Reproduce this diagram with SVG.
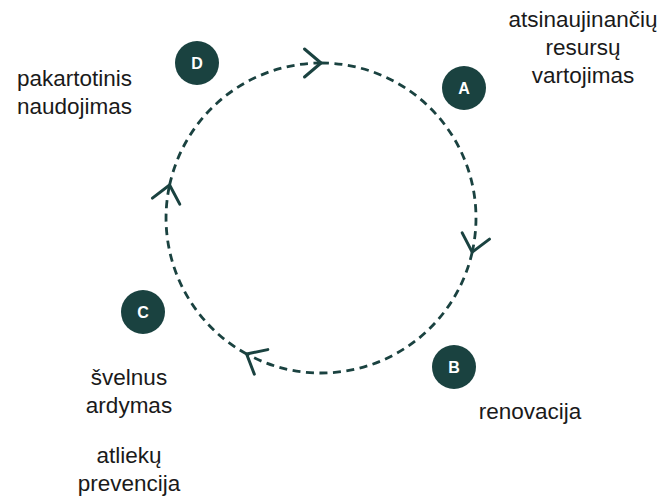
<svg xmlns="http://www.w3.org/2000/svg" width="666" height="500" viewBox="0 0 666 500">
<style>
.lbl{font-family:"Liberation Sans",Arial,sans-serif;font-size:22.5px;fill:#1a1a1a;text-anchor:middle}
.lbll{font-family:"Liberation Sans",Arial,sans-serif;font-size:22.5px;fill:#1a1a1a}
.badge{fill:#1a4240}
.letter{font-family:"Liberation Sans",Arial,sans-serif;font-size:16px;font-weight:bold;fill:#ffffff;text-anchor:middle}
.arc{fill:none;stroke:#1a4240;stroke-width:2.8;stroke-dasharray:8 5.5}
</style>
<defs>
<marker id="chev" markerUnits="userSpaceOnUse" markerWidth="40" markerHeight="40" refX="0" refY="0" orient="auto" overflow="visible">
<path d="M -16.5 -14 L 0 0 L -16.5 14" fill="none" stroke="#1a4240" stroke-width="3" stroke-linecap="round" stroke-linejoin="round"/>
</marker>
</defs>
<g id="connectors">
<path class="arc" d="M 169.6 185 A 155 155 0 0 1 321 63" marker-end="url(#chev)"/>
<path class="arc" d="M 321 63 A 155 155 0 0 1 472.2 252.1" marker-end="url(#chev)"/>
<path class="arc" d="M 472.2 252.1 A 155 155 0 0 1 246.6 354" marker-end="url(#chev)"/>
<path class="arc" d="M 246.6 354 A 155 155 0 0 1 169.6 185" marker-end="url(#chev)"/>
</g>
<g id="node-A">
<circle class="badge" cx="464" cy="88" r="22"/>
<text class="letter" x="464" y="94">A</text>
<text class="lbl" x="583" y="27">atsinaujinančių</text>
<text class="lbl" x="583" y="55">resursų</text>
<text class="lbl" x="583" y="83">vartojimas</text>
</g>
<g id="node-B">
<circle class="badge" cx="454" cy="367" r="22"/>
<text class="letter" x="454" y="373">B</text>
<text class="lbl" x="530" y="419">renovacija</text>
</g>
<g id="node-C">
<circle class="badge" cx="143" cy="312" r="22"/>
<text class="letter" x="143" y="318">C</text>
<text class="lbl" x="129" y="385">švelnus</text>
<text class="lbl" x="129" y="413">ardymas</text>
<text class="lbl" x="129" y="463">atliekų</text>
<text class="lbl" x="129" y="491">prevencija</text>
</g>
<g id="node-D">
<circle class="badge" cx="197" cy="63" r="22"/>
<text class="letter" x="197" y="69">D</text>
<text class="lbll" x="17" y="86">pakartotinis</text>
<text class="lbll" x="17" y="114">naudojimas</text>
</g>
</svg>
